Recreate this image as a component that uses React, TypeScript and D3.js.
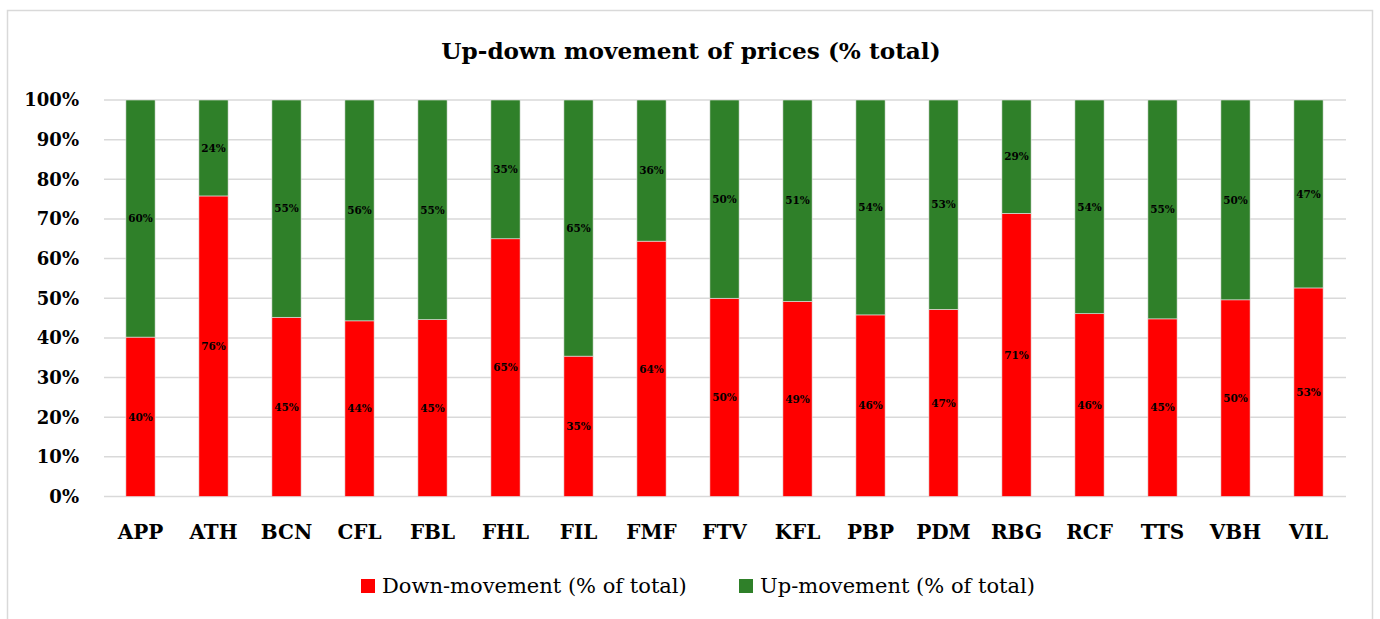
import React, { useEffect } from 'react';
import * as d3 from 'd3';

// data
const categories = ['APP', 'ATH', 'BCN', 'CFL', 'FBL', 'FHL', 'FIL', 'FMF', 'FTV', 'KFL', 'PBP', 'PDM', 'RBG', 'RCF', 'TTS', 'VBH', 'VIL'];
const downMovement = [40.2, 75.8, 45.2, 44.3, 44.6, 65.0, 35.4, 64.4, 50.0, 49.2, 45.8, 47.2, 71.4, 46.1, 44.8, 49.6, 52.6];
const upMovement = [59.8, 24.2, 54.8, 55.7, 55.4, 35.0, 64.6, 35.6, 50.0, 50.8, 54.2, 52.8, 28.6, 53.9, 55.2, 50.4, 47.4];
const yTicks = [0, 10, 20, 30, 40, 50, 60, 70, 80, 90, 100];
const seriesNames = ['Down-movement (% of total)', 'Up-movement (% of total)'];

const width = 1380;
const height = 619;
const font = '"DejaVu Serif", "Liberation Serif", serif';
const RED = '#FF0000';
const GREEN = '#2F8029';

export default function App() {
  useEffect(() => {
    document.body.style.margin = '0';
  }, []);

  const x = d3.scaleBand<string>().domain(categories).range([104, 1345]).paddingInner(0.6).paddingOuter(0.3);
  const y = d3.scaleLinear().domain([0, 100]).range([496.5, 100]);

  const stack = d3.stack<number>().keys(['down', 'up']).value((i, key) => (key === 'down' ? downMovement[i] : upMovement[i]));
  const series = stack(categories.map((_, i) => i));
  const colors = [RED, GREEN];
  const legendX = [361, 739];

  return (
    <svg width={width} height={height} style={{ display: 'block', background: '#fff' }} fontFamily={font}>
      <rect x={7.5} y={10.5} width={1365} height={640} fill="#fff" stroke="#D9D9D9" strokeWidth={1.5} />
      <text x={691} y={59} textAnchor="middle" fontSize={23.2} fontWeight="bold">
        Up-down movement of prices (% total)
      </text>

      {yTicks.map((t) => (
        <g key={t}>
          <line x1={104} x2={1346} y1={y(t)} y2={y(t)} stroke="#D9D9D9" strokeWidth={1.5} />
          <text x={79} y={y(t)} dy="0.36em" textAnchor="end" fontSize={18} fontWeight="bold">
            {t}%
          </text>
        </g>
      ))}

      {series.map((s, si) => (
        <g key={si} fill={colors[si]}>
          {s.map((d, i) => (
            <rect
              key={i}
              x={x(categories[i])}
              y={y(d[1])}
              width={x.bandwidth()}
              height={y(d[0]) - y(d[1])}
              stroke="#E6E6E6"
              strokeWidth={0.6}
            />
          ))}
        </g>
      ))}

      {series.map((s, si) => (
        <g key={'l' + si}>
          {s.map((d, i) => (
            <text
              key={i}
              x={(x(categories[i]) ?? 0) + x.bandwidth() / 2}
              y={(y(d[0]) + y(d[1])) / 2}
              dy="0.36em"
              textAnchor="middle"
              fontSize={10.5}
              fontWeight="bold"
            >
              {d3.format('.0f')(d[1] - d[0])}%
            </text>
          ))}
        </g>
      ))}

      {categories.map((c) => (
        <text key={c} x={(x(c) ?? 0) + x.bandwidth() / 2} y={539} textAnchor="middle" fontSize={20} fontWeight="bold">
          {c}
        </text>
      ))}

      {seriesNames.map((n, i) => (
        <g key={n}>
          <rect x={legendX[i]} y={579} width={14} height={14} fill={colors[i]} />
          <text x={legendX[i] + 21} y={593} fontSize={21}>
            {n}
          </text>
        </g>
      ))}
    </svg>
  );
}
